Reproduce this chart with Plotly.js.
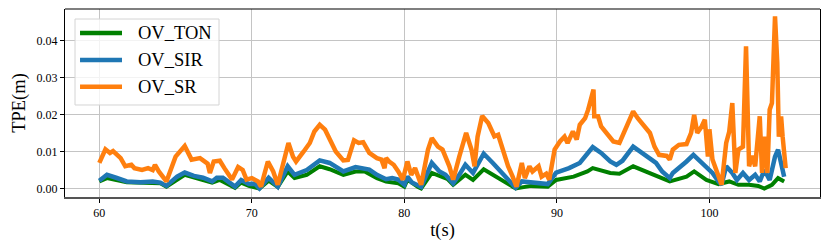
<!DOCTYPE html>
<html>
<head>
<meta charset="utf-8">
<script src="https://cdn.plot.ly/plotly-3.0.1.min.js"></script>
<style>html,body{margin:0;padding:0;background:#fff;}#chart{width:830px;height:251px;}</style>
</head>
<body>
<div id="chart"></div>
<script>
// OV_TON (green)
var tTON = [60, 60.5, 61.8, 63.0, 64.0, 64.4, 65.6, 66.8, 67.4, 67.9, 68.9, 69.3, 69.8, 70.5, 71.1, 71.7, 72.35, 72.8, 73.6, 74.45, 75.1, 76.0, 76.8, 77.4, 78.2, 78.8, 79.6, 80.0, 80.2, 80.9, 81.1, 81.8, 82.5, 82.85, 83.2, 84.0, 84.5, 85.2, 85.8, 86.5, 87.3, 88.3, 89.4, 89.95, 91.1, 92.0, 92.35, 93.5, 94.1, 95.0, 95.8, 96.5, 97.4, 98.5, 99.0, 99.8, 100.6, 101.3, 101.9, 102.6, 103.2, 103.6, 104.1, 104.5, 104.9];
var vTON = [0.0019, 0.0028, 0.0017, 0.0014, 0.0014, 0.0005, 0.0037, 0.0023, 0.0016, 0.0023, 0.0002, 0.0016, 0.0007, 0.0000, 0.0021, 0.0004, 0.0046, 0.0028, 0.0037, 0.0060, 0.0052, 0.0037, 0.0046, 0.0046, 0.0028, 0.0019, 0.0014, 0.0005, 0.0024, 0.0004, 0.0000, 0.0042, 0.0032, 0.0025, 0.0010, 0.0037, 0.0023, 0.0052, 0.0037, 0.0019, 0.0000, 0.0007, 0.0005, 0.0023, 0.0032, 0.0046, 0.0055, 0.0042, 0.0040, 0.0060, 0.0046, 0.0032, 0.0019, 0.0032, 0.0046, 0.0023, 0.0012, 0.0019, 0.0010, 0.0010, 0.0007, 0.0000, 0.0010, 0.0028, 0.0019];

// OV_SIR (blue)
var tSIR = [60, 60.5, 61.1, 61.8, 62.7, 63.5, 64.0, 64.4, 65.1, 65.6, 66.2, 66.8, 67.4, 67.7, 68.1, 68.9, 69.3, 69.8, 70.2, 70.5, 71.1, 71.7, 72.35, 72.8, 73.6, 74.45, 75.1, 76.0, 76.8, 77.4, 77.7, 78.2, 78.8, 79.2, 79.6, 80.0, 80.2, 80.5, 80.8, 81.1, 81.8, 82.3, 82.7, 83.2, 83.6, 84.0, 84.5, 85.2, 85.8, 86.5, 86.9, 87.3, 87.7, 88.3, 88.9, 89.4, 89.95, 90.8, 91.5, 92.0, 92.35, 92.9, 93.5, 93.9, 94.3, 95.0, 95.8, 96.5, 96.9, 97.4, 97.6, 98.0, 98.5, 98.95, 99.5, 99.9, 100.2, 100.6, 100.8, 101.1, 101.5, 101.8, 102.2, 102.6, 103.0, 103.3, 103.6, 103.95, 104.3, 104.5, 104.7, 104.9];
var vSIR = [0.0021, 0.0037, 0.0029, 0.0019, 0.0017, 0.0019, 0.0016, 0.0007, 0.0032, 0.0043, 0.0034, 0.0029, 0.0019, 0.0029, 0.0029, 0.0005, 0.0023, 0.0012, 0.0013, 0.0000, 0.0029, 0.0005, 0.0060, 0.0037, 0.0050, 0.0076, 0.0069, 0.0046, 0.0058, 0.0055, 0.0051, 0.0037, 0.0025, 0.0028, 0.0024, 0.0010, 0.0032, 0.0016, 0.0010, 0.0004, 0.0069, 0.0046, 0.0037, 0.0014, 0.0037, 0.0064, 0.0042, 0.0094, 0.0069, 0.0037, 0.0019, 0.0002, 0.0019, 0.0016, 0.0016, 0.0012, 0.0043, 0.0055, 0.0069, 0.0096, 0.0112, 0.0096, 0.0073, 0.0064, 0.0075, 0.0113, 0.0091, 0.0069, 0.0046, 0.0028, 0.0042, 0.0055, 0.0073, 0.0091, 0.0069, 0.0050, 0.0042, 0.0019, 0.0010, 0.0060, 0.0042, 0.0023, 0.0042, 0.0023, 0.0037, 0.0019, 0.0050, 0.0023, 0.0086, 0.0105, 0.0069, 0.0032];

// OV_SR (orange)
var tSR = [60, 60.4, 60.7, 60.9, 61.4, 61.7, 62.1, 62.3, 62.8, 63.2, 63.5, 63.65, 63.9, 64.4, 65.0, 65.6, 66.05, 66.6, 67.1, 67.25, 67.5, 67.9, 68.2, 68.7, 69.1, 69.4, 69.65, 70.0, 70.4, 70.6, 71.05, 71.4, 71.7, 72.1, 72.4, 72.7, 72.9, 73.4, 73.8, 74.1, 74.45, 74.8, 75.1, 75.5, 76.0, 76.3, 76.7, 77.0, 77.3, 77.7, 78.2, 78.5, 78.7, 78.8, 79.0, 79.3, 79.6, 79.9, 80.2, 80.45, 80.7, 80.9, 81.1, 81.55, 81.8, 82.2, 82.5, 82.95, 83.2, 83.6, 84.05, 84.4, 84.6, 84.8, 85.1, 85.5, 85.8, 85.9, 86.15, 86.5, 86.8, 87.1, 87.35, 87.7, 87.9, 88.2, 88.4, 88.8, 89.0, 89.3, 89.5, 89.85, 90.2, 90.5, 90.7, 91.05, 91.3, 91.5, 91.85, 92.05, 92.4, 92.45, 92.7, 92.9, 93.25, 93.7, 94.1, 94.5, 95.0, 95.3, 95.7, 96.1, 96.4, 96.7, 97.2, 97.4, 97.6, 98.0, 98.5, 98.8, 99.0, 99.2, 99.5, 99.7, 99.9, 100.0, 100.2, 100.5, 100.8, 101.1, 101.3, 101.5, 101.7, 101.9, 102.2, 102.4, 102.6, 102.8, 103.0, 103.3, 103.45, 103.6, 103.8, 103.95, 104.1, 104.3, 104.45, 104.55, 104.7, 104.8, 105.0];
var vSR = [0.0069, 0.0106, 0.0096, 0.0101, 0.0082, 0.0060, 0.0064, 0.0055, 0.0050, 0.0055, 0.0050, 0.0064, 0.0046, 0.0019, 0.0086, 0.0115, 0.0078, 0.0082, 0.0067, 0.0042, 0.0073, 0.0075, 0.0055, 0.0024, 0.0058, 0.0050, 0.0024, 0.0028, 0.0019, 0.0005, 0.0073, 0.0046, 0.0010, 0.0069, 0.0123, 0.0086, 0.0073, 0.0100, 0.0123, 0.0154, 0.0172, 0.0159, 0.0132, 0.0100, 0.0076, 0.0077, 0.0130, 0.0123, 0.0125, 0.0096, 0.0082, 0.0078, 0.0055, 0.0082, 0.0073, 0.0064, 0.0046, 0.0024, 0.0073, 0.0037, 0.0055, 0.0028, 0.0010, 0.0105, 0.0136, 0.0113, 0.0105, 0.0060, 0.0024, 0.0086, 0.0150, 0.0105, 0.0060, 0.0140, 0.0196, 0.0177, 0.0154, 0.0141, 0.0145, 0.0100, 0.0060, 0.0032, 0.0005, 0.0069, 0.0028, 0.0060, 0.0046, 0.0060, 0.0032, 0.0040, 0.0024, 0.0105, 0.0127, 0.0140, 0.0123, 0.0154, 0.0132, 0.0172, 0.0190, 0.0213, 0.0267, 0.0195, 0.0195, 0.0168, 0.0150, 0.0127, 0.0123, 0.0159, 0.0208, 0.0190, 0.0172, 0.0150, 0.0113, 0.0091, 0.0088, 0.0078, 0.0105, 0.0118, 0.0120, 0.0150, 0.0199, 0.0150, 0.0168, 0.0186, 0.0086, 0.0160, 0.0078, 0.0042, 0.0010, 0.0123, 0.0154, 0.0231, 0.0042, 0.0105, 0.0113, 0.0384, 0.0060, 0.0088, 0.0060, 0.0195, 0.0042, 0.0140, 0.0042, 0.0213, 0.0231, 0.0465, 0.0339, 0.0140, 0.0195, 0.0140, 0.0055];

var xTicks = [60, 70, 80, 90, 100];
var yTicks = [0.00, 0.01, 0.02, 0.03, 0.04];
var seriesNames = ['OV_TON', 'OV_SIR', 'OV_SR'];
var seriesColors = ['#008000', '#1f77b4', '#ff7f0e'];

var data = [
  {x: tTON, y: vTON, name: seriesNames[0], type: 'scatter', mode: 'lines', line: {color: seriesColors[0], width: 4}},
  {x: tSIR, y: vSIR, name: seriesNames[1], type: 'scatter', mode: 'lines', line: {color: seriesColors[1], width: 4.5}},
  {x: tSR, y: vSR, name: seriesNames[2], type: 'scatter', mode: 'lines', line: {color: seriesColors[2], width: 4.5}}
];

var serif = 'Liberation Serif, Times New Roman, serif';

// legend drawn as shapes + annotations (paper coordinates)
var legRows = [0.8723, 0.7287, 0.5867];
var shapes = [
  {type: 'line', xref: 'paper', yref: 'paper', x0: 0, x1: 1, y0: 1, y1: 1, line: {color: '#000', width: 1.2}},
  {type: 'rect', xref: 'paper', yref: 'paper', x0: 0.01325, x1: 0.2040, y0: 0.4894, y1: 0.9468,
   fillcolor: 'rgba(255,255,255,0.8)', line: {color: '#d4d4d4', width: 1}, layer: 'above'}
];
var annotations = [];
seriesNames.forEach(function(n, i) {
  shapes.push({type: 'line', xref: 'paper', yref: 'paper', x0: 0.0199, x1: 0.0755, y0: legRows[i], y1: legRows[i],
    line: {color: seriesColors[i], width: 4.5}, layer: 'above'});
  annotations.push({xref: 'paper', yref: 'paper', x: 0.0940, y: legRows[i], xanchor: 'left', yanchor: 'middle',
    text: n, showarrow: false, font: {family: serif, size: 18.5, color: '#000'}});
});

var layout = {
  width: 830, height: 251,
  margin: {l: 65, r: 10, t: 9, b: 54},
  paper_bgcolor: '#ffffff', plot_bgcolor: '#ffffff',
  showlegend: false,
  xaxis: {
    range: [57.75, 107.25],
    tickvals: xTicks, ticktext: xTicks.map(String),
    showgrid: true, gridcolor: '#c4c4c4', gridwidth: 1,
    zeroline: false,
    showline: true, linecolor: '#555555', linewidth: 2, mirror: false,
    ticks: 'outside', ticklen: 4, tickcolor: '#000', tickwidth: 1,
    tickfont: {family: serif, size: 12, color: '#000'},
    title: {text: 't(s)', font: {family: serif, size: 18.5, color: '#000'}, standoff: 4}
  },
  yaxis: {
    range: [-0.0023, 0.0485],
    tickvals: yTicks, ticktext: yTicks.map(function(v){return v.toFixed(2);}),
    showgrid: true, gridcolor: '#c4c4c4', gridwidth: 1,
    zeroline: false,
    showline: true, linecolor: '#000', linewidth: 1, mirror: true,
    ticks: 'outside', ticklen: 4, tickcolor: '#000', tickwidth: 1,
    tickfont: {family: serif, size: 12, color: '#000'},
    title: {text: 'TPE(m)', font: {family: serif, size: 18.5, color: '#000'}, standoff: 6}
  },
  shapes: shapes,
  annotations: annotations
};

Plotly.newPlot('chart', data, layout, {displayModeBar: false, staticPlot: true});
</script>
</body>
</html>
